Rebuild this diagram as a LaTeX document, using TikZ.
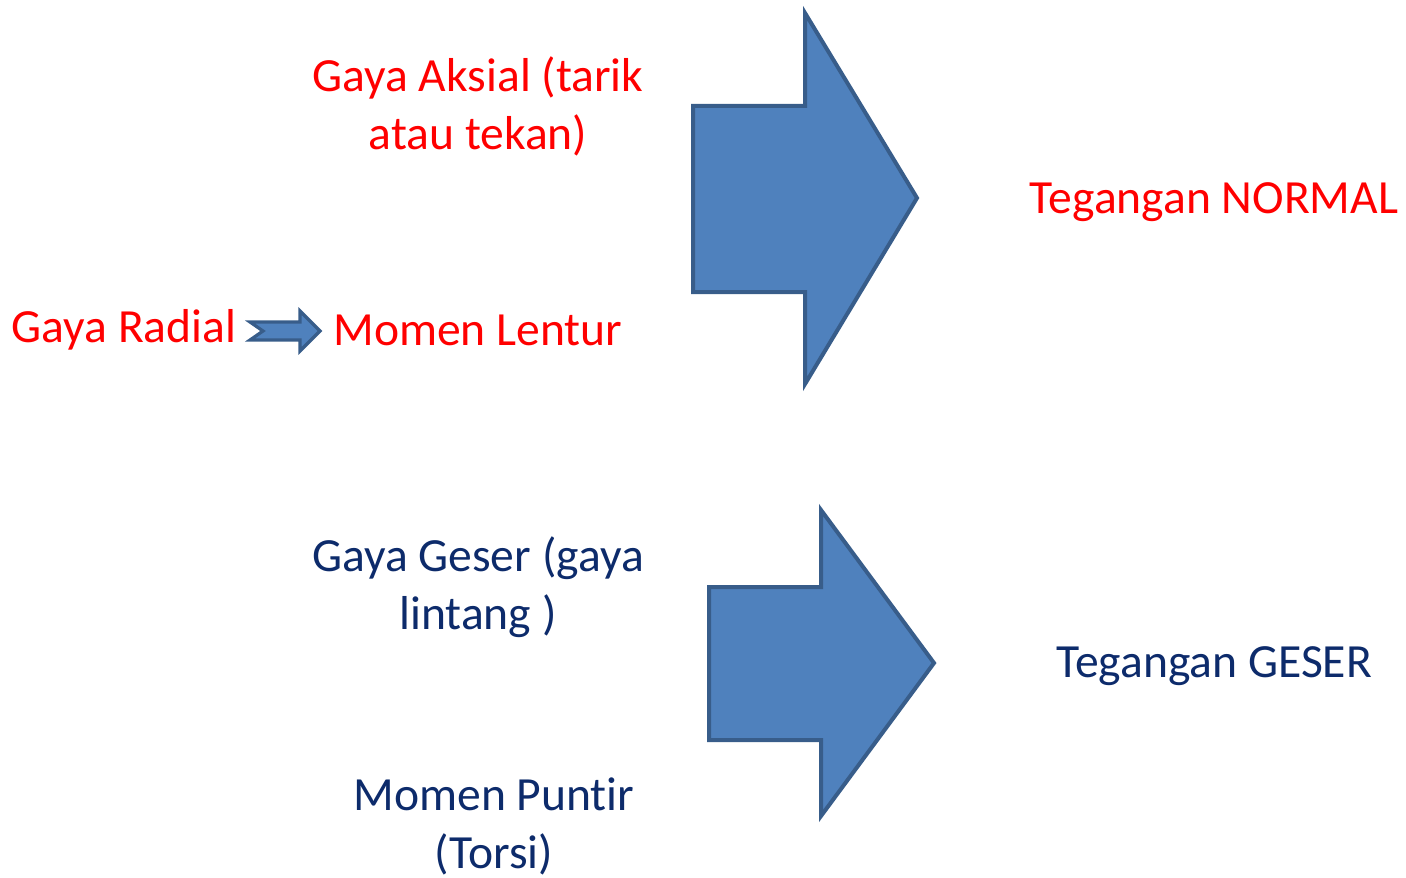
\documentclass[tikz,border=0pt]{standalone}
\usepackage{fontspec}
\setmainfont{Carlito}[Ligatures=CommonOff]
\definecolor{arrowfill}{HTML}{4F81BD}
\definecolor{arrowedge}{HTML}{385D8A}
\definecolor{navytext}{HTML}{0D2B6B}
\begin{document}
\begin{tikzpicture}[x=0.5pt,y=-0.5pt,
  lbl/.style={font=\fontsize{23.8pt}{29pt}\selectfont, align=center, inner sep=0pt},
  redlbl/.style={lbl, text=red},
  navylbl/.style={lbl, text=navytext},
  bigarrow/.style={fill=arrowfill, draw=arrowedge, line width=2pt, line join=miter},
  smallarrow/.style={fill=arrowfill, draw=arrowedge, line width=1.6pt, line join=miter}]
\useasboundingbox (0,0) rectangle (1406,877);

% block arrow towards normal stress
\draw[bigarrow] (693,106) -- (805,106) -- (805,13) -- (917,198) -- (805,384)
  -- (805,292) -- (693,292) -- cycle;
% block arrow towards shear stress
\draw[bigarrow] (709,587) -- (821,587) -- (821,510) -- (934,663) -- (821,816)
  -- (821,740) -- (709,740) -- cycle;

% labels
\node[redlbl] (aksial) at (478,106) {Gaya Aksial (tarik\\atau tekan)};
\node[redlbl] (radial) at (124,330) {Gaya Radial};
\node[redlbl] (lentur) at (478,330) {Momen Lentur};
\node[redlbl] (normal) at (1214,202) {Tegangan NORMAL};
\node[navylbl] (geser) at (478,587) {Gaya Geser (gaya\\lintang )};
\node[navylbl] (puntir) at (494,826) {Momen Puntir\\(Torsi)};
\node[navylbl] (tgeser) at (1214,666) {Tegangan GESER};

% notched arrow from radial force to bending moment
\draw[smallarrow] (250,322) -- (300,322) -- (300,311) -- (320,331) -- (300,351)
  -- (300,340) -- (250,340) -- (263,331) -- cycle;
\end{tikzpicture}
\end{document}
